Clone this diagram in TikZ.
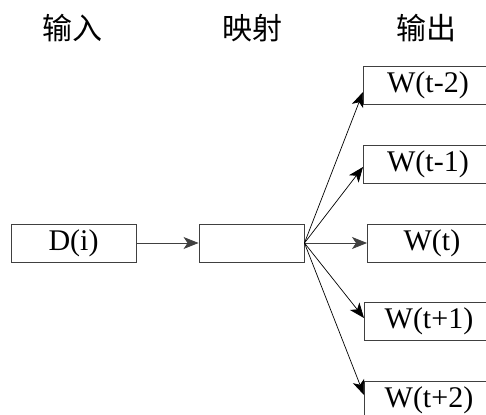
\documentclass[tikz,border=0pt]{standalone}
\usepackage{fontspec}
\setmainfont{Liberation Serif}
\newfontfamily\cjk{Noto Sans CJK SC}
\usetikzlibrary{arrows.meta}

\begin{document}
\begin{tikzpicture}[x=1pt,y=-1pt,
  box/.style={draw=black!75, line width=0.9pt, inner sep=0pt, minimum height=38pt,
    font=\fontsize{30}{30}\selectfont},
  outbox/.style={box, minimum width=129pt},
  head/.style={font=\cjk\fontsize{30}{30}\selectfont, inner sep=0pt},
  link/.style={line width=0.7pt, -{Stealth[length=15pt,width=12pt,inset=4pt]}}]
  \useasboundingbox (0,0) rectangle (486,414);
  \clip (0,0) rectangle (486,414);

  % column headings
  \node[head] (hin)  at (72,28)  {输入};
  \node[head] (hmap) at (252,28) {映射};
  \node[head] (hout) at (426,28) {输出};

  % input and mapping
  \node[box, minimum width=125pt] (din) at (73.5,243) {D(i)};
  \node[box, minimum width=105pt] (map) at (251.5,243) {};

  % outputs (their right sides run past the edge)
  \node[outbox, anchor=west] (wm2) at (363,85)  {W(t-2)};
  \node[outbox, anchor=west] (wm1) at (363,164) {W(t-1)};
  \node[outbox, anchor=west] (w0)  at (367,243) {W(t)};
  \node[outbox, anchor=west] (wp1) at (364,321) {W(t+1)};
  \node[outbox, anchor=west] (wp2) at (364,400) {W(t+2)};

  % connectors
  \draw[link, line width=0.9pt, draw=black!75] (din.east) -- (map.west);
  \draw[link] (map.east) -- ([yshift=-7pt]wm2.west);
  \draw[link] (map.east) -- ([yshift=-3pt]wm1.west);
  \draw[link, line width=0.9pt, draw=black!75] (map.east) -- (w0.west);
  \draw[link] (map.east) -- ([yshift=3pt]wp1.west);
  \draw[link] (map.east) -- ([yshift=5pt]wp2.west);
\end{tikzpicture}
\end{document}
